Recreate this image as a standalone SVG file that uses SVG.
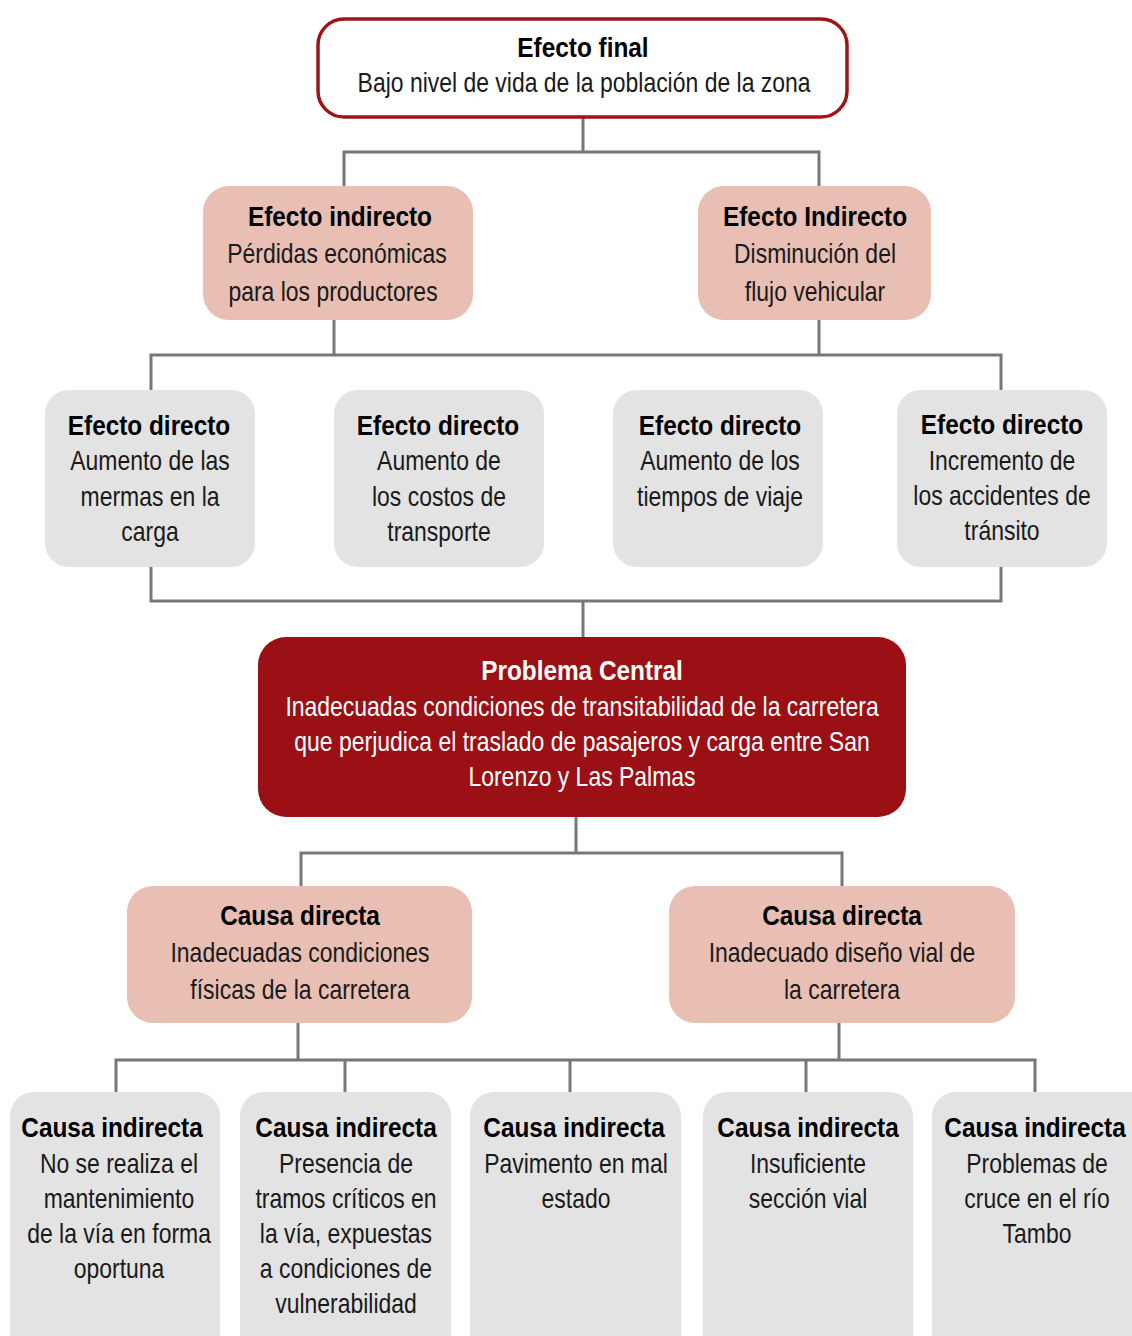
<svg xmlns="http://www.w3.org/2000/svg" width="1132" height="1336" viewBox="0 0 1132 1336">
  <style>
    text { font-family: "Liberation Sans", Arial, sans-serif; text-anchor: middle; font-size: 28px; fill: #1a1a1a;
           transform-box: fill-box; transform-origin: center; transform: scaleX(0.82); }
    .t { font-weight: bold; fill: #000; transform: scaleX(0.87); }
    .w { fill: #ffffff; }
    .final { fill: #ffffff; stroke: #a01419; stroke-width: 3.5; }
    .pink { fill: #e8bfb2; }
    .gray { fill: #e3e3e3; }
    .core { fill: #9b1014; }
    .links path { fill: none; stroke: #777777; stroke-width: 3; }
  </style>

  <g class="links">
    <path d="M583 118 V152 M344 186 V152 H819 V186"/>
    <path d="M334 320 V355 M819 320 V355 M151 390 V355 H1001 V390"/>
    <path d="M151 567 V601 H1001 V567 M583 601 V637"/>
    <path d="M576 817 V853 M301 886 V853 H842 V886"/>
    <path d="M298 1023 V1060 M839 1023 V1060 M116 1092 V1060 H1035 V1092 M345 1060 V1092 M570 1060 V1092 M806 1060 V1092"/>
  </g>

  <g id="efecto-final">
    <rect class="final" x="318" y="19" width="529" height="98" rx="26"/>
    <text class="t" x="583" y="57">Efecto final</text>
    <text x="584" y="92">Bajo nivel de vida de la población de la zona</text>
  </g>

  <g id="efecto-indirecto-1">
    <rect class="pink" x="203" y="186" width="270" height="134" rx="26"/>
    <text class="t" x="340" y="226">Efecto indirecto</text>
    <text x="337" y="263">Pérdidas económicas</text>
    <text x="333" y="301">para los productores</text>
  </g>

  <g id="efecto-indirecto-2">
    <rect class="pink" x="698" y="186" width="233" height="134" rx="26"/>
    <text class="t" x="815" y="226">Efecto Indirecto</text>
    <text x="815" y="263">Disminución del</text>
    <text x="815" y="301">flujo vehicular</text>
  </g>

  <g id="efecto-directo-1">
    <rect class="gray" x="45" y="390" width="210" height="177" rx="24"/>
    <text class="t" x="149" y="435">Efecto directo</text>
    <text x="150" y="470">Aumento de las</text>
    <text x="150" y="506">mermas en la</text>
    <text x="150" y="541">carga</text>
  </g>

  <g id="efecto-directo-2">
    <rect class="gray" x="334" y="390" width="210" height="177" rx="24"/>
    <text class="t" x="438" y="435">Efecto directo</text>
    <text x="439" y="470">Aumento de</text>
    <text x="439" y="506">los costos de</text>
    <text x="439" y="541">transporte</text>
  </g>

  <g id="efecto-directo-3">
    <rect class="gray" x="613" y="390" width="210" height="177" rx="24"/>
    <text class="t" x="720" y="435">Efecto directo</text>
    <text x="720" y="470">Aumento de los</text>
    <text x="720" y="506">tiempos de viaje</text>
  </g>

  <g id="efecto-directo-4">
    <rect class="gray" x="897" y="390" width="210" height="177" rx="24"/>
    <text class="t" x="1002" y="434">Efecto directo</text>
    <text x="1002" y="470">Incremento de</text>
    <text x="1002" y="505">los accidentes de</text>
    <text x="1002" y="540">tránsito</text>
  </g>

  <g id="problema-central">
    <rect class="core" x="258" y="637" width="648" height="180" rx="28"/>
    <text class="t w" x="582" y="680">Problema Central</text>
    <text class="w" x="582" y="716">Inadecuadas condiciones de transitabilidad de la carretera</text>
    <text class="w" x="582" y="751">que perjudica el traslado de pasajeros y carga entre San</text>
    <text class="w" x="582" y="786">Lorenzo y Las Palmas</text>
  </g>

  <g id="causa-directa-1">
    <rect class="pink" x="127" y="886" width="345" height="137" rx="26"/>
    <text class="t" x="300" y="925">Causa directa</text>
    <text x="300" y="962">Inadecuadas condiciones</text>
    <text x="300" y="999">físicas de la carretera</text>
  </g>

  <g id="causa-directa-2">
    <rect class="pink" x="669" y="886" width="346" height="137" rx="26"/>
    <text class="t" x="842" y="925">Causa directa</text>
    <text x="842" y="962">Inadecuado diseño vial de</text>
    <text x="842" y="999">la carretera</text>
  </g>

  <g id="causa-indirecta-1">
    <rect class="gray" x="10" y="1092" width="210" height="270" rx="24"/>
    <text class="t" x="112" y="1137">Causa indirecta</text>
    <text x="119" y="1173">No se realiza el</text>
    <text x="119" y="1208">mantenimiento</text>
    <text x="119" y="1243">de la vía en forma</text>
    <text x="119" y="1278">oportuna</text>
  </g>

  <g id="causa-indirecta-2">
    <rect class="gray" x="240" y="1092" width="211" height="270" rx="24"/>
    <text class="t" x="346" y="1137">Causa indirecta</text>
    <text x="346" y="1173">Presencia de</text>
    <text x="346" y="1208">tramos críticos en</text>
    <text x="346" y="1243">la vía, expuestas</text>
    <text x="346" y="1278">a condiciones de</text>
    <text x="346" y="1313">vulnerabilidad</text>
  </g>

  <g id="causa-indirecta-3">
    <rect class="gray" x="470" y="1092" width="211" height="270" rx="24"/>
    <text class="t" x="574" y="1137">Causa indirecta</text>
    <text x="576" y="1173">Pavimento en mal</text>
    <text x="576" y="1208">estado</text>
  </g>

  <g id="causa-indirecta-4">
    <rect class="gray" x="703" y="1092" width="210" height="270" rx="24"/>
    <text class="t" x="808" y="1137">Causa indirecta</text>
    <text x="808" y="1173">Insuficiente</text>
    <text x="808" y="1208">sección vial</text>
  </g>

  <g id="causa-indirecta-5">
    <rect class="gray" x="932" y="1092" width="220" height="270" rx="24"/>
    <text class="t" x="1035" y="1137">Causa indirecta</text>
    <text x="1037" y="1173">Problemas de</text>
    <text x="1037" y="1208">cruce en el río</text>
    <text x="1037" y="1243">Tambo</text>
  </g>
</svg>
